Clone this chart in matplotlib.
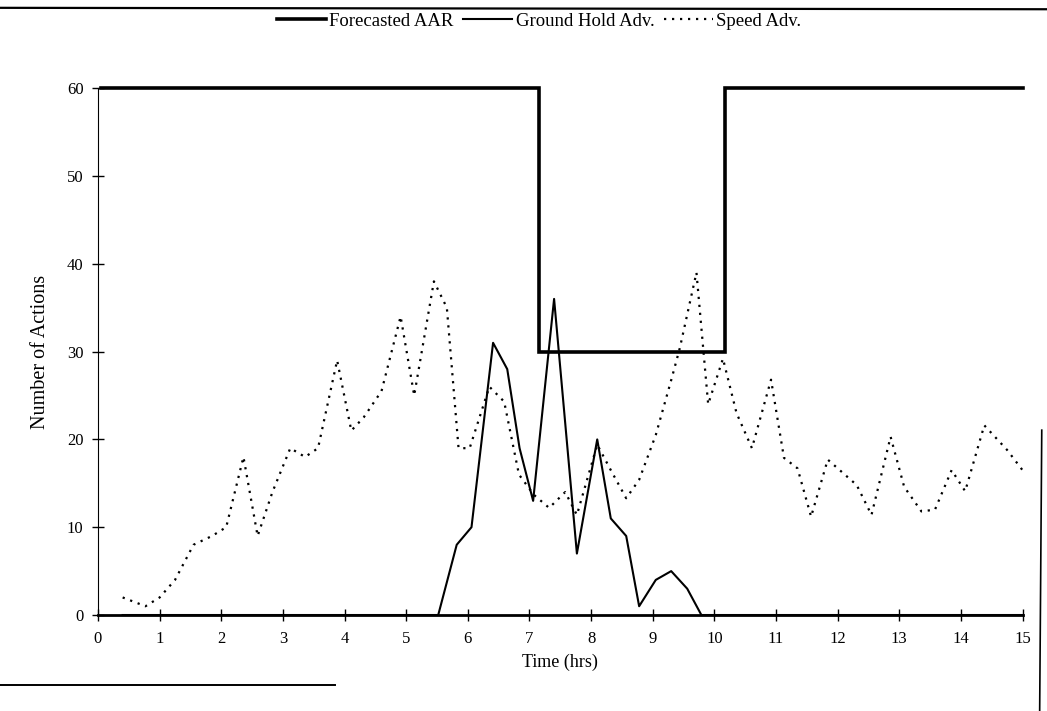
import matplotlib.pyplot as plt
from matplotlib.lines import Line2D

plt.rcParams['font.family'] = ['Liberation Serif', 'DejaVu Serif']

# Forecasted airport acceptance rate (step line)
aar_t = [0.05, 7.15, 7.15, 10.18, 10.18, 15.0]
aar_v = [60, 60, 30, 30, 60, 60]

# Ground hold advisories
gh_t = [0.4, 5.52, 5.82, 6.06, 6.41, 6.64, 6.84, 7.06, 7.40, 7.77, 8.10,
        8.32, 8.57, 8.78, 9.05, 9.30, 9.56, 9.79, 15.0]
gh_v = [0, 0, 8, 10, 31, 28, 19, 13, 36, 7, 20, 11, 9, 1, 4, 5, 3, 0, 0]

# Speed advisories
sp_t = [0.4, 0.77, 1.0, 1.25, 1.55, 1.85, 2.08, 2.36, 2.59, 2.83, 3.12,
        3.36, 3.57, 3.88, 4.11, 4.31, 4.6, 4.91, 5.13, 5.45, 5.66, 5.85,
        6.03, 6.35, 6.59, 6.83, 7.07, 7.32, 7.58, 7.77, 8.10, 8.32, 8.57,
        8.78, 9.05, 9.31, 9.44, 9.71, 9.90, 10.14, 10.36, 10.61, 10.92,
        11.13, 11.35, 11.57, 11.84, 12.31, 12.55, 12.86, 13.08, 13.36,
        13.58, 13.85, 14.07, 14.38, 14.75, 15.0]
sp_v = [2, 1, 2, 4, 8, 9, 10, 18, 9, 14, 19, 18, 19, 29, 21, 22.5, 25.5,
        34, 25, 38, 35, 19, 19, 26, 24.3, 16, 13.7, 12.2, 14, 11.4, 19.4,
        16.5, 13.3, 15.4, 20.5, 27, 30.4, 39, 24, 29.2, 23, 19, 26.8, 17.9,
        16.7, 11.2, 17.7, 14.8, 11.4, 20.3, 14.6, 11.8, 12, 16.5, 14.1,
        21.6, 18.8, 16.5]

xticks = list(range(0, 16))
yticks = list(range(0, 61, 10))

fig = plt.figure(figsize=(10.47, 7.11), dpi=100)
ax = fig.add_axes([0.0936, 0.135, 0.883, 0.741])

l1, = ax.plot(aar_t, aar_v, color='black', lw=2.6, solid_joinstyle='miter')
l2, = ax.plot(gh_t, gh_v, color='black', lw=1.5)
l3, = ax.plot(sp_t, sp_v, color='black', lw=1.6, linestyle=(0, (1, 2.6)))

ax.set_xlim(0, 15)
ax.set_ylim(0, 60)
ax.set_xticks(xticks)
ax.set_yticks(yticks)
ax.spines['top'].set_visible(False)
ax.spines['right'].set_visible(False)
ax.spines['left'].set_linewidth(0.8)
ax.spines['bottom'].set_linewidth(2.0)
ax.tick_params(direction='inout', length=9, width=1, labelsize=12)
ax.tick_params(axis='x', pad=7)
ax.tick_params(axis='y', pad=6)
for ln in (l1, l2, l3):
    ln.set_clip_on(False)

ax.set_xlabel('Time (hrs)', fontsize=13, labelpad=5)
ax.set_ylabel('Number of Actions', fontsize=14.5, labelpad=12)

fig.legend([l1, l2, l3], ['Forecasted AAR', 'Ground Hold Adv.', 'Speed Adv.'],
           loc='upper center', bbox_to_anchor=(0.515, 1.006), ncol=3,
           frameon=False, fontsize=13.5, handlelength=2.6, handletextpad=0.2,
           columnspacing=0.5)

# scanned page edges
fig.add_artist(Line2D([0.0, 1.0], [0.989, 0.987], color='black', lw=1.6))
fig.add_artist(Line2D([0.0, 0.32], [0.036, 0.036], color='black', lw=1.4))
fig.add_artist(Line2D([0.995, 0.993], [0.395, 0.0], color='black', lw=1.2))

fig.savefig('out.png', dpi=100)
